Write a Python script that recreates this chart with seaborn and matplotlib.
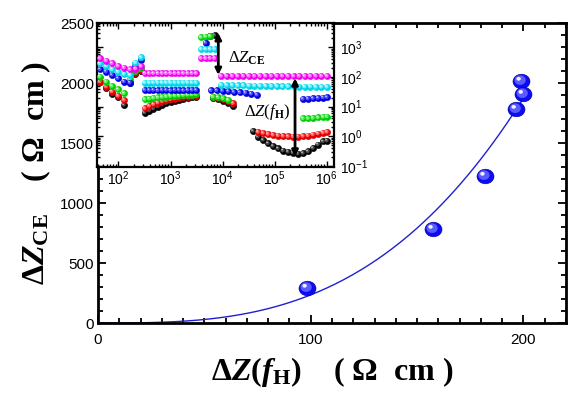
import numpy as np
import pandas as pd
import matplotlib
matplotlib.use("Agg")
import matplotlib.pyplot as plt
import seaborn as sns
from matplotlib.path import Path
from matplotlib.markers import MarkerStyle
from matplotlib.ticker import MultipleLocator, LogLocator, NullFormatter

# --- main plot: dZ(fH) vs dZ_CE (Ohm cm) ---
dz_fh = [98.4, 157.6, 182.0, 196.7, 199.0, 200.0]
dz_ce = [292, 783, 1225, 1783, 2017, 1908]

# --- inset: spectra, frequency segments (Hz) ---
freq_a = [44, 58, 75, 98, 128]
freq_hook = [166, 212, 271]
freq_c = [320, 390, 470, 570, 690, 830, 1000, 1210, 1460, 1770, 2140, 2580, 3110]
freq_d = [3860, 4710, 5750, 7020]
freq_e_low = [6560, 8190, 10200, 12800, 15900]
freq_e_blue = [6010, 7740, 10000, 12900, 16600, 21500, 27700, 35700, 46000]
freq_e_top = [9400, 12000, 15400, 19600, 25100, 32200, 41200, 52700, 67600, 86500,
              111000, 142000, 182000, 232000, 297000, 381000, 488000, 624000, 800000, 1020000]
freq_tail = [38600, 48200, 60200, 75100, 93600, 117000, 146000, 182000, 227000, 283000,
             353000, 441000, 550000, 687000, 857000, 1020000]

black_f = freq_a + freq_hook + freq_c + [5750, 7020] + freq_e_low + freq_tail
black_z = ([66, 41, 27, 21.5, 11.3] + [62, 128, 155]
           + [6.2, 7.3, 8.5, 10, 11.5, 13, 14.5, 16, 17.3, 18.5, 19.6, 20.6, 21.5]
           + [2450, 2500] + [19, 17.6, 16, 13.6, 10.5]
           + [1.5, 0.95, 0.75, 0.58, 0.47, 0.39, 0.33, 0.30, 0.28, 0.26, 0.27, 0.31,
              0.40, 0.53, 0.67, 0.71])

red_f = freq_a + freq_hook + freq_c + [5750] + freq_e_low + freq_tail[1:]
red_z = ([69, 47, 32, 23, 16.7] + [69, 135, 165]
         + [8.8, 10.5, 12, 13.5, 15, 16.3, 17.5, 18.6, 19.6, 20.5, 21.3, 22, 23]
         + [2420] + [20.6, 19, 17.6, 16, 13]
         + [1.40, 1.29, 1.19, 1.11, 1.06, 1.02, 1.0, 0.98, 0.98, 1.02, 1.06, 1.15,
            1.24, 1.32, 1.40])

green_f = freq_a + freq_hook + freq_c + freq_d[:3] + freq_e_low[:4] + freq_tail[10:]
green_z = ([102, 69, 49, 38, 28] + [83, 160, 200]
           + [17.6, 18.5, 19.5, 20.3, 21, 21.7, 22.4, 23, 23.7, 24.3, 25, 25.5, 26]
           + [2150, 2260, 2380] + [21.5, 20.6, 19, 16.7]
           + [4.0, 4.0, 4.1, 4.3, 4.5, 4.6])

blue_f = freq_a + freq_hook + freq_c + [4710] + freq_e_blue + freq_tail[10:]
blue_z = ([180, 150, 116, 90, 69] + [64, 225, 380]
          + [36, 36, 36, 35, 36, 36, 35, 36, 36, 35, 36, 36, 36]
          + [1400] + [35, 35, 34, 33, 31, 30, 29, 27, 25]
          + [18, 18.4, 19, 19.5, 20.2, 20.6])

cyan_f = freq_a + freq_hook + freq_c + freq_d + freq_e_top
cyan_z = ([287, 233, 180, 150, 125] + [116, 301, 457]
          + [64, 64, 64, 64, 64, 64, 64, 64, 64, 64, 64, 64, 64]
          + [860, 860, 860, 860]
          + [54, 53, 53, 52, 52, 51, 51, 50, 50, 49, 49, 48, 48, 48, 47, 47, 47, 46, 46, 46])

magenta_f = freq_a + freq_hook + freq_c + freq_d + freq_e_top
magenta_z = ([423, 351, 287, 233, 204] + [180, 190, 230]
             + [132, 132, 132, 132, 132, 132, 132, 132, 132, 132, 132, 132, 132]
             + [423, 423, 423, 423]
             + [107, 107, 107, 107, 107, 107, 107, 107, 107, 107,
                107, 107, 107, 107, 107, 107, 107, 107, 107, 107])

series = [
    (black_f, black_z, ["#000000", "#4a4a4a", "#d0d0d0"]),
    (red_f, red_z, ["#e00000", "#ff6060", "#ffd8d8"]),
    (green_f, green_z, ["#00cc00", "#60f060", "#e0ffe0"]),
    (blue_f, blue_z, ["#0000dd", "#5050ff", "#d8d8ff"]),
    (cyan_f, cyan_z, ["#00d4e6", "#70f0ff", "#e8ffff"]),
    (magenta_f, magenta_z, ["#ee00ee", "#ff70ff", "#ffe4ff"]),
]


def ball(cx, cy, r, sy=1.0):
    c = Path.unit_circle()
    v = c.vertices * [r, r * sy] + [cx, cy]
    verts = np.vstack([[[-0.5, -0.5], [0.5, 0.5]], v])
    codes = np.concatenate([[Path.MOVETO, Path.MOVETO], c.codes])
    return MarkerStyle(Path(verts, codes))


def draw_balls(ax, x, y, s, cols, sy=1.0, edge=None):
    sns.scatterplot(x=x, y=y, ax=ax, marker=ball(0, 0, 0.5, sy), s=s, color=cols[0],
                    edgecolor=edge if edge else cols[0], linewidth=0.4, zorder=3)
    sns.scatterplot(x=x, y=y, ax=ax, marker=ball(-0.07, 0.06 * sy, 0.33, sy), s=s,
                    color=cols[1], edgecolor="none", linewidth=0, zorder=3)
    sns.scatterplot(x=x, y=y, ax=ax, marker=ball(-0.16, 0.15 * sy, 0.13, sy), s=s,
                    color=cols[2], edgecolor="none", linewidth=0, zorder=3)


sns.set_style("ticks")
plt.rcParams.update({
    "font.family": ["Liberation Sans", "DejaVu Sans"],
    "mathtext.fontset": "custom",
    "mathtext.rm": "Liberation Serif",
    "mathtext.it": "Liberation Serif:italic",
    "mathtext.bf": "Liberation Serif:bold",
    "mathtext.bfit": "Liberation Serif:bold:italic",
    "xtick.direction": "in",
    "ytick.direction": "in",
    "axes.edgecolor": "black",
    "text.color": "black",
    "axes.labelcolor": "black",
    "xtick.color": "black",
    "ytick.color": "black",
})

fig = plt.figure(figsize=(5.78, 3.94), dpi=100)
ax = fig.add_axes([0.1696, 0.1802, 0.8096, 0.7614])

# cubic fit through origin, least squares
xs = np.array(dz_fh)
ys = np.array(dz_ce)
coef = np.sum(ys * xs**3) / np.sum(xs**6)
xx = np.linspace(0, xs.max(), 200)
sns.lineplot(x=xx, y=coef * xx**3, ax=ax, color="#2020d0", lw=1, estimator=None, zorder=2)

draw_balls(ax, dz_fh, dz_ce, 150, ["#0c0cf4", "#5a5aff", "#f0f0ff"], sy=0.86, edge="#000090")

ax.set_xlim(0, 220)
ax.set_ylim(0, 2500)
ax.xaxis.set_major_locator(MultipleLocator(100))
ax.xaxis.set_minor_locator(MultipleLocator(10))
ax.yaxis.set_major_locator(MultipleLocator(500))
ax.yaxis.set_minor_locator(MultipleLocator(100))
ax.tick_params(which="both", top=True, right=True, width=1.3, labelsize=11)
ax.tick_params(which="major", length=6)
ax.tick_params(which="minor", length=3.5)
ax.tick_params(axis="x", pad=7)
ax.tick_params(axis="y", pad=3)
for sp in ax.spines.values():
    sp.set_linewidth(2)

ax.set_xlabel("Δ$\\mathbfit{Z}$($\\mathbfit{f}_{\\mathbf{H}}$)    ( Ω  cm )", fontsize=23,
              fontfamily="Liberation Serif", fontweight="bold", labelpad=6)
ax.set_ylabel("Δ$\\mathbfit{Z}_{\\mathbf{CE}}$    ( Ω  cm )", fontsize=23,
              fontfamily="Liberation Serif", fontweight="bold", labelpad=5)

# --- inset ---
ins = fig.add_axes([0.1678, 0.5761, 0.4100, 0.3655], zorder=5)
ins.set_facecolor("white")
for f, z, cols in series:
    draw_balls(ins, f, z, 20, cols)

ins.set_xscale("log")
ins.set_yscale("log")
ins.set_xlim(38.6, 1.39e6)
ins.set_ylim(0.0925, 6530)
ins.xaxis.set_major_locator(LogLocator(base=10, numticks=10))
ins.xaxis.set_minor_locator(LogLocator(base=10, subs=np.arange(2, 10), numticks=20))
ins.xaxis.set_minor_formatter(NullFormatter())
ins.yaxis.set_major_locator(LogLocator(base=10, numticks=10))
ins.yaxis.set_minor_locator(LogLocator(base=10, subs=np.arange(2, 10), numticks=20))
ins.yaxis.set_minor_formatter(NullFormatter())
ins.tick_params(which="both", top=True, right=True, left=True, bottom=True,
                labelleft=False, labelright=True, labelsize=10, width=1)
ins.tick_params(which="major", length=4)
ins.tick_params(which="minor", length=2)
ins.tick_params(axis="x", pad=2)
ins.tick_params(axis="y", pad=4)
for sp in ins.spines.values():
    sp.set_linewidth(1.6)

arrow = dict(arrowstyle="<|-|>", color="black", lw=2, mutation_scale=9, shrinkA=0, shrinkB=0)
ins.annotate("", xy=(8300, 116), xytext=(8300, 3000), arrowprops=arrow, zorder=6)
ins.annotate("", xy=(248000, 0.206), xytext=(248000, 90), arrowprops=arrow, zorder=6)
ins.text(12800, 430, "Δ$\\mathit{Z}_{\\mathbf{CE}}$", fontsize=12, fontfamily="Liberation Serif",
         ha="left", va="center", zorder=6)
ins.text(205000, 6.5, "Δ$\\mathit{Z}$($\\mathit{f}_{\\mathbf{H}}$)", fontsize=12,
         fontfamily="Liberation Serif", ha="right", va="center", zorder=6)

fig.savefig("out.png", dpi=100)
